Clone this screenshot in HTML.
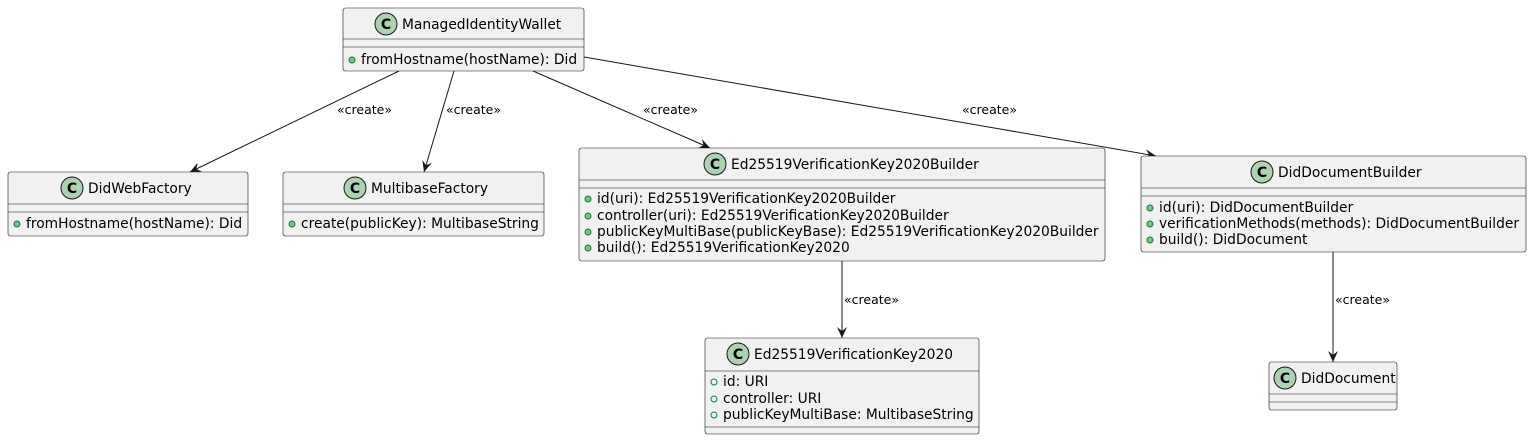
<!DOCTYPE html>
<html><head><meta charset="utf-8"><style>
html,body{margin:0;padding:0;background:#fff;}
svg text{font-family:"DejaVu Sans","Liberation Sans",sans-serif;font-size:13.8px;fill:#000;}
.b{fill:#F1F1F1;stroke:#181818;stroke-width:0.6;}
.s{stroke:#181818;stroke-width:0.6;}
.ln{stroke:#181818;stroke-width:1;fill:none;}
.lb{font-size:12.5px !important;}
</style></head><body>
<svg width="1532" height="440" viewBox="0 0 1532 440" xmlns="http://www.w3.org/2000/svg">
<defs>
<g id="ci"><circle r="11" fill="#ADD1B2" stroke="#181818" stroke-width="1"/><text x="0" y="5" text-anchor="middle" style="font-weight:bold;font-size:14px">C</text></g>
<marker id="ar" viewBox="0 0 12 10" refX="11" refY="5" markerWidth="12" markerHeight="10" markerUnits="userSpaceOnUse" orient="auto"><path d="M0,0 L11,5 L0,10 L4,5 Z" fill="#181818"/></marker>
</defs>
<path class="ln" marker-end="url(#ar)" d="M399,71 L190,172"/><path class="ln" marker-end="url(#ar)" d="M454,71 L424,172"/>
<path class="ln" marker-end="url(#ar)" d="M533,71 L710,148"/><path class="ln" marker-end="url(#ar)" d="M584,57 L1156,156"/>
<path class="ln" marker-end="url(#ar)" d="M842,261 L842,338"/><path class="ln" marker-end="url(#ar)" d="M1333,252 L1333,362"/>
<text class="lb" x="337" y="114">«create»</text>
<text class="lb" x="446" y="114">«create»</text>
<text class="lb" x="643" y="114">«create»</text>
<text class="lb" x="962" y="114">«create»</text>
<text class="lb" x="844" y="304">«create»</text>
<text class="lb" x="1335" y="304">«create»</text>

<rect class="b" x="343" y="8" width="241" height="63" rx="2.5"/>
<line class="s" x1="343" y1="39" x2="584" y2="39"/><line class="s" x1="343" y1="47" x2="584" y2="47"/>
<use href="#ci" x="386" y="24"/><text x="402" y="29">ManagedIdentityWallet</text>
<circle cx="352" cy="60" r="3" fill="#84BE84" stroke="#038048"/><text x="361" y="64">fromHostname(hostName): Did</text>

<rect class="b" x="8" y="172" width="240" height="64" rx="2.5"/>
<line class="s" x1="8" y1="204" x2="248" y2="204"/><line class="s" x1="8" y1="212" x2="248" y2="212"/>
<use href="#ci" x="72" y="188"/><text x="88" y="193">DidWebFactory</text>
<circle cx="17" cy="224" r="3" fill="#84BE84" stroke="#038048"/><text x="26" y="228">fromHostname(hostName): Did</text>

<rect class="b" x="283" y="172" width="261" height="64" rx="2.5"/>
<line class="s" x1="283" y1="204" x2="544" y2="204"/><line class="s" x1="283" y1="212" x2="544" y2="212"/>
<use href="#ci" x="355" y="188"/><text x="371" y="193">MultibaseFactory</text>
<circle cx="292" cy="224" r="3" fill="#84BE84" stroke="#038048"/><text x="301" y="228">create(publicKey): MultibaseString</text>

<rect class="b" x="579" y="148" width="526" height="113" rx="2.5"/>
<line class="s" x1="579" y1="180" x2="1105" y2="180"/><line class="s" x1="579" y1="188" x2="1105" y2="188"/>
<use href="#ci" x="715" y="164"/><text x="731" y="169">Ed25519VerificationKey2020Builder</text>
<circle cx="588" cy="199" r="3" fill="#84BE84" stroke="#038048"/><text x="597" y="203">id(uri): Ed25519VerificationKey2020Builder</text>
<circle cx="588" cy="216" r="3" fill="#84BE84" stroke="#038048"/><text x="597" y="220">controller(uri): Ed25519VerificationKey2020Builder</text>
<circle cx="588" cy="232" r="3" fill="#84BE84" stroke="#038048"/><text x="597" y="236">publicKeyMultiBase(publicKeyBase): Ed25519VerificationKey2020Builder</text>
<circle cx="588" cy="248" r="3" fill="#84BE84" stroke="#038048"/><text x="597" y="252">build(): Ed25519VerificationKey2020</text>

<rect class="b" x="1141" y="156" width="385" height="96" rx="2.5"/>
<line class="s" x1="1141" y1="188" x2="1526" y2="188"/><line class="s" x1="1141" y1="196" x2="1526" y2="196"/>
<use href="#ci" x="1262" y="172"/><text x="1278" y="177">DidDocumentBuilder</text>
<circle cx="1150" cy="208" r="3" fill="#84BE84" stroke="#038048"/><text x="1159" y="212">id(uri): DidDocumentBuilder</text>
<circle cx="1150" cy="224" r="3" fill="#84BE84" stroke="#038048"/><text x="1159" y="228">verificationMethods(methods): DidDocumentBuilder</text>
<circle cx="1150" cy="240" r="3" fill="#84BE84" stroke="#038048"/><text x="1159" y="244">build(): DidDocument</text>

<rect class="b" x="705" y="338" width="274" height="96" rx="2.5"/>
<line class="s" x1="705" y1="371" x2="979" y2="371"/><line class="s" x1="705" y1="427" x2="979" y2="427"/>
<use href="#ci" x="738" y="354"/><text x="754" y="359">Ed25519VerificationKey2020</text>
<circle cx="714" cy="382" r="3" fill="none" stroke="#038048"/><text x="723" y="386">id: URI</text>
<circle cx="714" cy="399" r="3" fill="none" stroke="#038048"/><text x="723" y="403">controller: URI</text>
<circle cx="714" cy="415" r="3" fill="none" stroke="#038048"/><text x="723" y="419">publicKeyMultiBase: MultibaseString</text>

<rect class="b" x="1269" y="362" width="128" height="48" rx="2.5"/>
<line class="s" x1="1269" y1="394" x2="1397" y2="394"/><line class="s" x1="1269" y1="402" x2="1397" y2="402"/>
<use href="#ci" x="1285" y="378"/><text x="1301" y="383">DidDocument</text>
</svg>
</body></html>
